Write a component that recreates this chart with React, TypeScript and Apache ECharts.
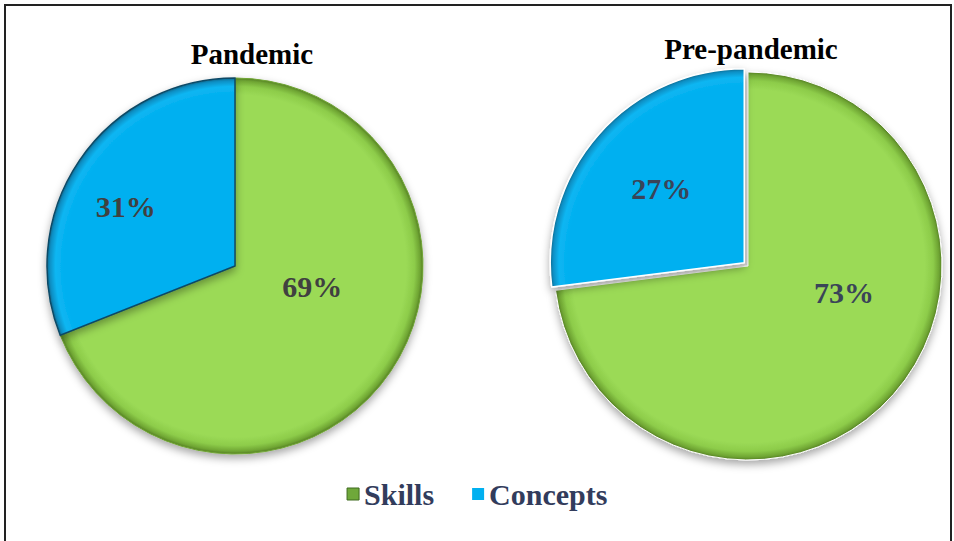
import React, { useEffect, useRef } from "react";
import * as echarts from "echarts";

const categories = ["Skills", "Concepts"];
const pandemicValues = [69, 31];
const prePandemicValues = [73, 27];
const titles = ["Pandemic", "Pre-pandemic"];

const SERIF = "'Liberation Serif', 'Times New Roman', serif";

function rimGradient(cx: number, cy: number, r: number, stops: string[]) {
  return {
    type: "radial",
    x: cx,
    y: cy,
    r: r,
    global: true,
    colorStops: [
      { offset: 0, color: stops[0] },
      { offset: 0.91, color: stops[0] },
      { offset: 0.955, color: stops[1] },
      { offset: 0.985, color: stops[2] },
      { offset: 1, color: stops[3] },
    ],
  };
}

const GREEN_STOPS = ["#9BDA56", "#8DCC4A", "#6FA533", "#557F24"];
const BLUE_STOPS = ["#00B0F0", "#10B6F2", "#0A8FC4", "#07698F"];

export default function App() {
  const ref = useRef<HTMLDivElement>(null);
  useEffect(() => {
    if (!ref.current) return;
    const chart = echarts.init(ref.current, undefined, { renderer: "svg" });
    const p1 = { cx: 235, cy: 266, r: 188 };
    const p2 = { cx: 748, cy: 266, r: 194 };
    const green = "#9BDA56";
    const blue = "#00B0F0";
    const makeData = (
      vals: number[],
      p: { cx: number; cy: number; r: number },
      explodeBlue: boolean,
      blueBorder: string,
      greenBorder: string
    ) =>
      categories.map((name, i) => ({
        name,
        value: vals[i],
        selected: explodeBlue && i === 1,
        itemStyle: {
          color: i === 0 ? rimGradient(p.cx, p.cy, p.r, GREEN_STOPS) : rimGradient(p.cx, p.cy, p.r, BLUE_STOPS),
          borderColor: i === 0 ? greenBorder : blueBorder,
          borderWidth: i === 0 ? 1 : 1.5,
        },
      }));
    const labelOffsets1 = [
      { dx: -3, dy: -34 },
      { dx: -29, dy: -5 },
    ];
    const labelOffsets2 = [
      { dx: 21, dy: -40 },
      { dx: -8, dy: -8 },
    ];
    const shadow = {
      shadowBlur: 8,
      shadowOffsetY: 4,
      shadowColor: "rgba(0,0,0,0.35)",
    };
    chart.setOption({
      animation: false,
      backgroundColor: "#ffffff",
      color: [green, blue],
      title: [
        {
          text: titles[0],
          left: 247,
          top: 34,
          textAlign: "center",
          textStyle: { fontFamily: SERIF, fontWeight: "bold", fontSize: 29, color: "#000000" },
        },
        {
          text: titles[1],
          left: 746,
          top: 29,
          textAlign: "center",
          textStyle: { fontFamily: SERIF, fontWeight: "bold", fontSize: 29, color: "#000000" },
        },
      ],
      legend: {
        data: [
          { name: "Skills", itemStyle: { color: "#6FA83A", borderColor: "#3E6B1E", borderWidth: 1 } },
          { name: "Concepts", itemStyle: { color: blue, borderWidth: 0 } },
        ],
        left: "center",
        top: 474,
        icon: "rect",
        itemWidth: 12,
        itemHeight: 12,
        itemGap: 38,
        textStyle: { fontFamily: SERIF, fontWeight: "bold", fontSize: 30, color: "#323C5C" },
      },
      graphic: [
        {
          type: "rect",
          shape: { x: 5, y: 5, width: 946, height: 560 },
          style: { fill: "none", stroke: "#222222", lineWidth: 2 },
          silent: true,
        },
      ],
      series: [
        {
          type: "pie",
          name: titles[0],
          center: [p1.cx, p1.cy],
          radius: p1.r,
          startAngle: 90,
          clockwise: true,
          selectedMode: false,
          data: makeData(pandemicValues, p1, false, "#0E4A66", "#6FA533"),
          itemStyle: shadow,
          label: {
            show: true,
            position: "inner",
            formatter: "{c}%",
            fontFamily: SERIF,
            fontWeight: "bold",
            fontSize: 30,
            color: "#404040",
          },
          labelLine: { show: false },
          labelLayout: (params: any) => labelOffsets1[params.dataIndex],
          emphasis: { disabled: true },
        },
        {
          type: "pie",
          name: titles[1],
          center: [p2.cx, p2.cy],
          radius: p2.r,
          startAngle: 90,
          clockwise: true,
          selectedMode: "single",
          selectedOffset: 5,
          data: makeData(prePandemicValues, p2, true, "#ffffff", "#ffffff"),
          itemStyle: shadow,
          label: {
            show: true,
            position: "inner",
            formatter: "{c}%",
            fontFamily: SERIF,
            fontWeight: "bold",
            fontSize: 30,
            color: "#3A4458",
          },
          labelLine: { show: false },
          labelLayout: (params: any) => labelOffsets2[params.dataIndex],
          emphasis: { disabled: true },
        },
      ],
    });
    return () => chart.dispose();
  }, []);
  return (
    <div
      ref={ref}
      style={{ position: "fixed", left: 0, top: 0, width: 954, height: 541, background: "#fff" }}
    />
  );
}
